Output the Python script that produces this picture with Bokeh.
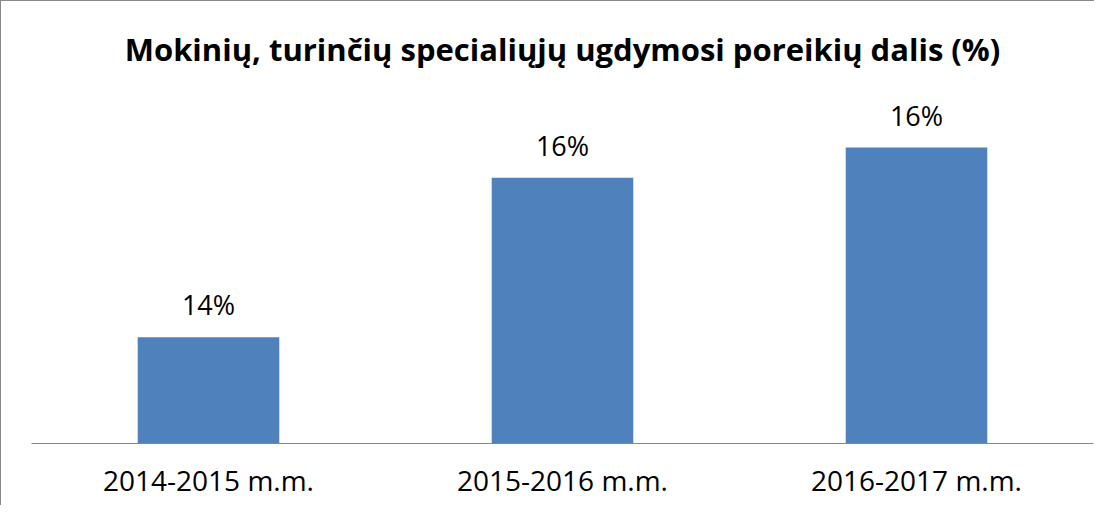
from bokeh.plotting import figure
from bokeh.models import ColumnDataSource, LabelSet, FactorRange, Range1d
from bokeh.core.properties import value
from bokeh.embed import file_html
from bokeh.resources import INLINE

title_text = "Mokinių, turinčių specialiųjų ugdymosi poreikių dalis (%)"
categories = ["2014-2015 m.m.", "2015-2016 m.m.", "2016-2017 m.m."]
shares = [0.1416, 0.1590, 0.1623]
labels = [f"{round(v * 100)}%" for v in shares]
axis_min = 0.13
axis_max = 0.1682

src = ColumnDataSource(dict(cat=categories, share=shares, lab=labels,
                            base=[axis_min] * len(categories)))

p = figure(width=1094, height=505, x_range=FactorRange(*categories, range_padding=0),
           y_range=Range1d(axis_min, axis_max), output_backend="svg",
           toolbar_location=None, title=title_text,
           min_border_left=30, min_border_right=2, min_border_top=92, min_border_bottom=63)
p.styles = {"border-left": "1px solid #898989", "border-top": "1px solid #898989",
            "box-sizing": "border-box"}

p.vbar(x="cat", top="share", bottom="base", width=0.4, source=src,
       fill_color="#4F81BD", line_color=None)

p.add_layout(LabelSet(x="cat", y="share", text="lab", source=src, y_offset=14,
                      text_align="center", text_baseline="bottom",
                      text_font=value("Open Sans"), text_font_size="27px",
                      text_color="#000000"))

p.title.text_font = "Open Sans"
p.title.text_font_size = "31px"
p.title.text_font_style = "bold"
p.title.align = "center"
p.title.text_color = "#000000"
p.title.standoff = 47

p.yaxis.visible = False
p.xgrid.grid_line_color = None
p.ygrid.grid_line_color = None
p.outline_line_color = None
p.xaxis.axis_line_color = "#868686"
p.xaxis.axis_line_width = 1
p.xaxis.major_tick_line_color = None
p.xaxis.minor_tick_line_color = None
p.xaxis.major_label_text_font = "Open Sans"
p.xaxis.major_label_text_font_size = "28px"
p.xaxis.major_label_text_color = "#000000"
p.xaxis.major_label_standoff = 11

open("out.html", "w").write(file_html(p, INLINE))
